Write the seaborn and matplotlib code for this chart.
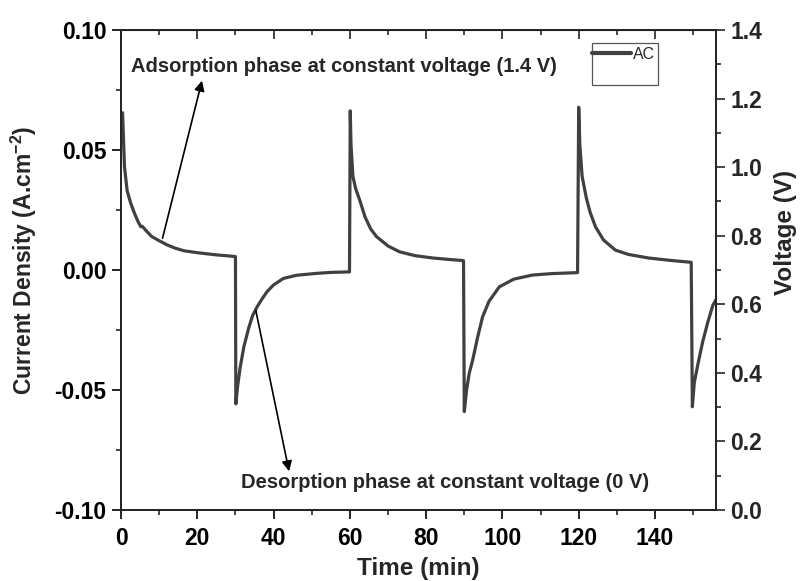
import matplotlib
matplotlib.use("Agg")
import matplotlib.pyplot as plt
import seaborn as sns
import pandas as pd
from matplotlib.ticker import MultipleLocator
from matplotlib.patches import Rectangle

# ---- data ----
time_min = [0.4, 0.9, 1.6, 2.5, 3.5, 4.5, 5.2, 5.6, 6.5, 8, 10, 12, 14, 16.5, 20, 25, 30.0,
            30.1, 30.6, 31.2, 32.2, 33.5, 34.5, 35.7, 37, 38.3, 40, 42.6, 46, 51.3, 55, 59.9,
            60.1, 60.3, 60.8, 61.5, 62.6, 64, 65.5, 67, 70, 73, 77, 81.7, 86, 89.8,
            90.0, 90.6, 91.3, 92.2, 93.5, 94.8, 96.5, 99.2, 103, 107.9, 113, 119.7,
            120.0, 120.3, 120.9, 122, 123, 124.4, 126.5, 129.6, 133, 138.3, 144, 149.5,
            149.8, 150.3, 151.3, 152.5, 153.8, 155.2, 156.5]
current_density = [0.0655, 0.043, 0.033, 0.028, 0.0237, 0.020, 0.0180, 0.0182, 0.0165, 0.014,
                   0.0122, 0.0105, 0.0092, 0.0080, 0.0072, 0.0063, 0.0056,
                   -0.0558, -0.048, -0.041, -0.032, -0.024, -0.019, -0.0153, -0.012, -0.009,
                   -0.0062, -0.0035, -0.0022, -0.0014, -0.0010, -0.0008,
                   0.0663, 0.052, 0.039, 0.034, 0.029, 0.022, 0.017, 0.0139, 0.0100, 0.0076,
                   0.0060, 0.0050, 0.0044, 0.0039,
                   -0.059, -0.050, -0.043, -0.0375, -0.028, -0.0195, -0.013, -0.007, -0.0038,
                   -0.0021, -0.0015, -0.0011,
                   0.0678, 0.052, 0.039, 0.030, 0.024, 0.018, 0.0125, 0.0083, 0.0065, 0.0050,
                   0.0040, 0.0032,
                   -0.057, -0.047, -0.0389, -0.030, -0.022, -0.0146, -0.011]
series_name = "AC"
x_ticks = [0, 20, 40, 60, 80, 100, 120, 140]
left_ticks = [-0.10, -0.05, 0.00, 0.05, 0.10]
right_ticks = [0.0, 0.2, 0.4, 0.6, 0.8, 1.0, 1.2, 1.4]
adsorption_text = "Adsorption phase at constant voltage (1.4 V)"
desorption_text = "Desorption phase at constant voltage (0 V)"

df = pd.DataFrame({"Time": time_min, "Current": current_density, "Sample": series_name})

sns.set_style("ticks")
plt.rcParams['font.family'] = ['Liberation Sans', 'DejaVu Sans']
plt.rcParams['axes.unicode_minus'] = False
plt.rcParams['mathtext.fontset'] = 'custom'
plt.rcParams['mathtext.rm'] = 'Liberation Sans:bold'
plt.rcParams['mathtext.bf'] = 'Liberation Sans:bold'
plt.rcParams['mathtext.default'] = 'bf'

LINE_COLOR = "#404040"
TICK_FS = 16.5
MAJ, MIN = 6.5, 3.4

fig = plt.figure(figsize=(8, 5.81), dpi=100)
ax = fig.add_axes([0.1513, 0.1222, 0.7437, 0.8262])

sns.lineplot(data=df, x="Time", y="Current", hue="Sample", palette=[LINE_COLOR],
             estimator=None, sort=False, linewidth=2.3, ax=ax, legend=False)

ax.set_xlim(0, 156.0)
ax.set_ylim(-0.10, 0.10)
ax.set_xticks(x_ticks)
ax.set_yticks(left_ticks)
ax.set_yticklabels([f"{v:.2f}" for v in left_ticks])
ax.xaxis.set_minor_locator(MultipleLocator(10))
ax.yaxis.set_minor_locator(MultipleLocator(0.025))
for s in ax.spines.values():
    s.set_linewidth(1.2)
    s.set_color("black")
ax.tick_params(axis='both', which='major', direction='out', length=MAJ, width=1.2,
               labelsize=TICK_FS, colors='black', pad=4)
ax.tick_params(axis='both', which='minor', direction='out', length=MIN, width=1.2)
ax.tick_params(axis='x', which='major', pad=6)
for lab in ax.get_xticklabels() + ax.get_yticklabels():
    lab.set_fontweight('bold')

top = ax.secondary_xaxis('top')
top.set_xticks(x_ticks)
top.xaxis.set_minor_locator(MultipleLocator(10))
top.tick_params(which='major', direction='in', length=MAJ, width=1.2, labeltop=False)
top.tick_params(which='minor', direction='in', length=MIN, width=1.2)

ax.set_xlabel("Time (min)", fontsize=17.5, fontweight='bold', labelpad=5)
ax.set_ylabel(r"Current Density (A.cm$^{-2}$)", fontsize=16.5, fontweight='bold', labelpad=11)
ax.yaxis.label.set_y(0.52)

ax2 = ax.twinx()
ax2.set_ylim(0, 1.4)
ax2.set_yticks(right_ticks)
ax2.set_yticklabels([f"{v:.1f}" for v in right_ticks])
ax2.yaxis.set_minor_locator(MultipleLocator(0.1))
ax2.tick_params(which='major', direction='out', length=MAJ, width=1.2, labelsize=TICK_FS, pad=4)
ax2.tick_params(which='minor', direction='out', length=MIN, width=1.2)
for lab in ax2.get_yticklabels():
    lab.set_fontweight('bold')
ax2.set_ylabel("Voltage (V)", fontsize=17.5, fontweight='bold', labelpad=8)
ax2.yaxis.label.set_y(0.579)
for s in ax2.spines.values():
    s.set_linewidth(1.2)

# annotations
arrow_kw = dict(arrowstyle='-|>', color='black', lw=1.2, mutation_scale=15)
ax.annotate("", xy=(21.4, 0.0800), xytext=(10.7, 0.0121), arrowprops=arrow_kw)
ax.annotate("", xy=(44.2, -0.0850), xytext=(35.2, -0.0158), arrowprops=arrow_kw)
ax.text(58.5, 0.0846, adsorption_text, ha='center', va='center', fontsize=14.5, fontweight='bold')
ax.text(85.0, -0.0885, desorption_text, ha='center', va='center', fontsize=14.5, fontweight='bold')

# legend
handle = plt.Line2D([], [], color=LINE_COLOR, lw=3)
leg = ax.legend([handle], [series_name], loc='upper left', bbox_to_anchor=(0.792, 0.9646),
                frameon=False, fontsize=11.5, handlelength=2.4, handletextpad=0.15,
                borderpad=0.0, borderaxespad=0)
ax.add_patch(Rectangle((0.7916, 0.885), 0.111, 0.0875, transform=ax.transAxes,
                       fill=False, edgecolor='#555555', lw=0.9, zorder=5))

fig.savefig("out.png", dpi=100)
